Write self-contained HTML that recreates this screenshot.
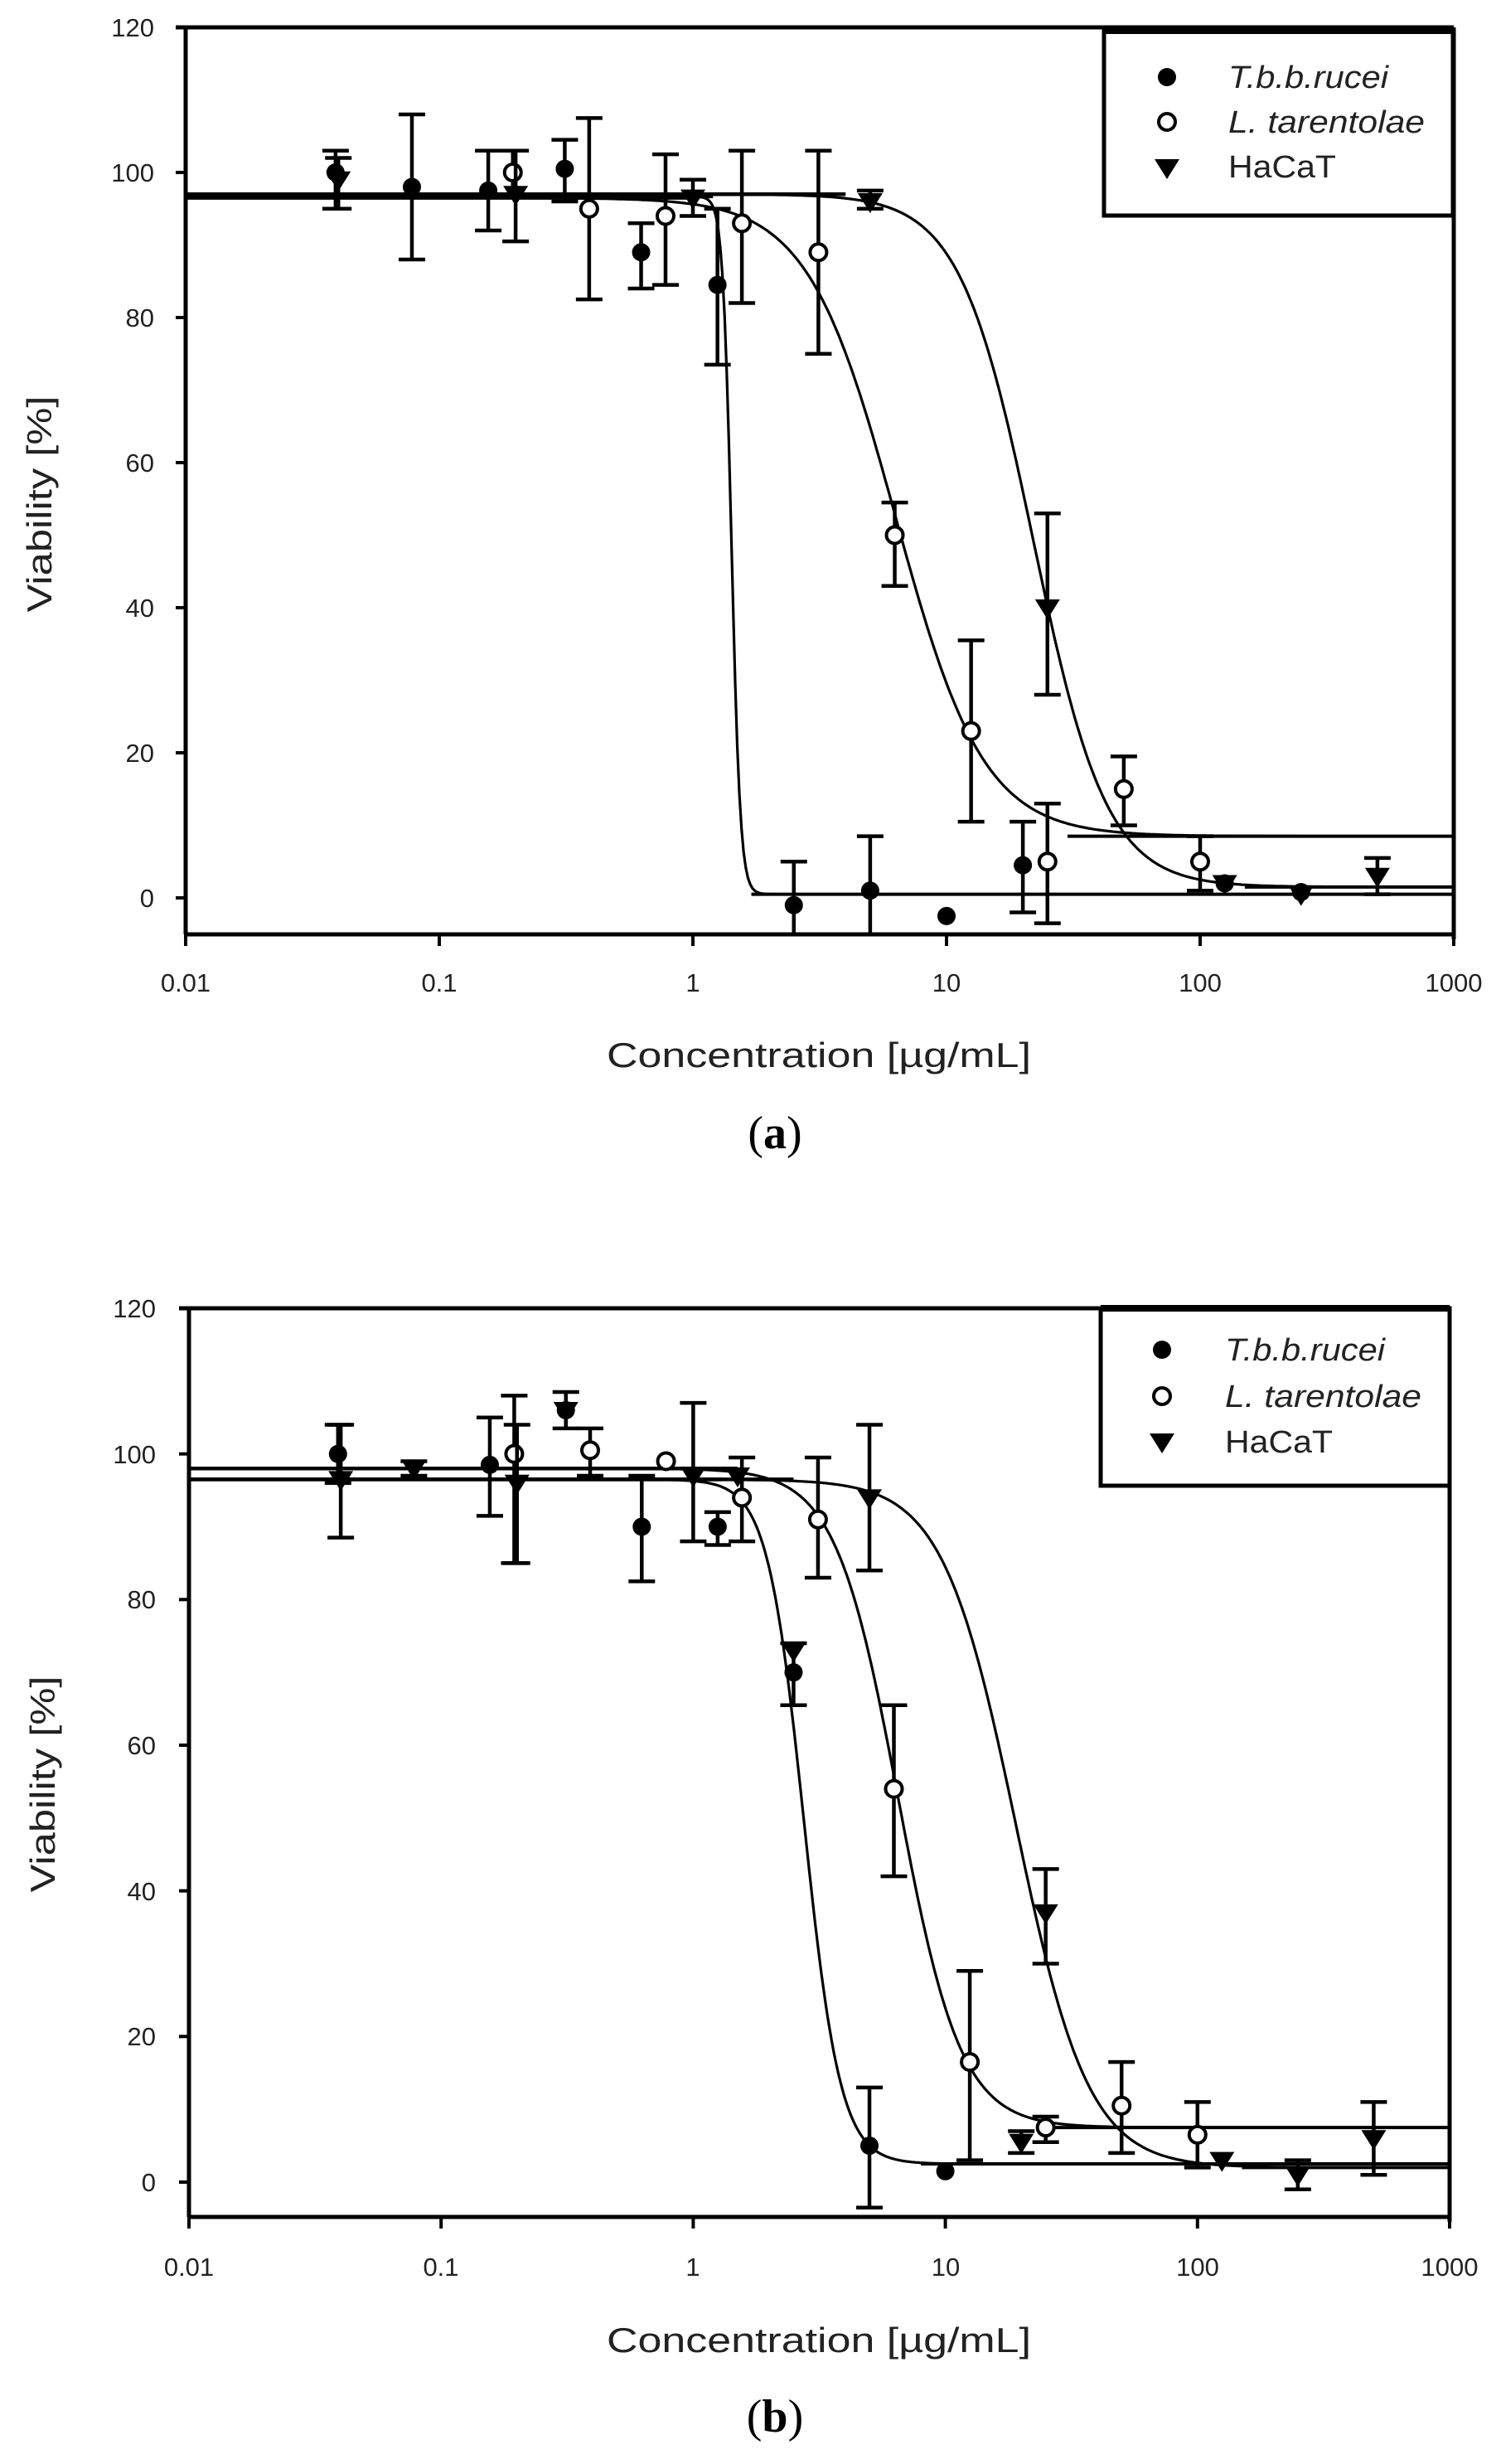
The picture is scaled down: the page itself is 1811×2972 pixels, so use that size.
<!DOCTYPE html>
<html><head><meta charset="utf-8"><style>
html,body{margin:0;padding:0;background:#fff;}
svg{display:block;}
text{font-family:"Liberation Sans",sans-serif;fill:#222;}
</style></head><body>
<svg id="s" width="1811" height="2972" viewBox="0 0 1811 2972" xmlns="http://www.w3.org/2000/svg">
<rect width="1811" height="2972" fill="#fff"/>
<g id="pa"></g><g id="pb"></g>
<!-- Plot A text -->
<g font-size="31" text-anchor="end">
<text x="186" y="44">120</text><text x="186" y="219">100</text><text x="186" y="394">80</text>
<text x="186" y="569">60</text><text x="186" y="744">40</text><text x="186" y="919">20</text><text x="186" y="1094">0</text>
</g>
<g font-size="31" text-anchor="middle">
<text x="224" y="1196">0.01</text><text x="530" y="1196">0.1</text><text x="836" y="1196">1</text>
<text x="1142" y="1196">10</text><text x="1448" y="1196">100</text><text x="1754" y="1196">1000</text>
</g>
<text x="988" y="1287" font-size="42" text-anchor="middle" textLength="512" lengthAdjust="spacingAndGlyphs">Concentration [µg/mL]</text>
<text transform="translate(62,608) rotate(-90)" font-size="42" text-anchor="middle" textLength="261" lengthAdjust="spacingAndGlyphs">Viability [%]</text>
<text x="935" y="1385" font-size="56" text-anchor="middle" style="font-family:'Liberation Serif',serif;fill:#000">(<tspan font-weight="bold">a</tspan>)</text>
<g font-size="38">
<text x="1482" y="106" font-style="italic" textLength="193" lengthAdjust="spacingAndGlyphs">T.b.b.rucei</text>
<text x="1482" y="160" font-style="italic" textLength="237" lengthAdjust="spacingAndGlyphs">L. tarentolae</text>
<text x="1482" y="214" textLength="130" lengthAdjust="spacingAndGlyphs">HaCaT</text>
</g>
<!-- Plot B text -->
<g font-size="31" text-anchor="end">
<text x="188" y="1589">120</text><text x="188" y="1765">100</text><text x="188" y="1940">80</text>
<text x="188" y="2116">60</text><text x="188" y="2292">40</text><text x="188" y="2467">20</text><text x="188" y="2643">0</text>
</g>
<g font-size="31" text-anchor="middle">
<text x="228" y="2745">0.01</text><text x="532" y="2745">0.1</text><text x="836" y="2745">1</text>
<text x="1141" y="2745">10</text><text x="1445" y="2745">100</text><text x="1749" y="2745">1000</text>
</g>
<text x="988" y="2837" font-size="42" text-anchor="middle" textLength="512" lengthAdjust="spacingAndGlyphs">Concentration [µg/mL]</text>
<text transform="translate(66,2152) rotate(-90)" font-size="42" text-anchor="middle" textLength="261" lengthAdjust="spacingAndGlyphs">Viability [%]</text>
<text x="935" y="2933" font-size="56" text-anchor="middle" style="font-family:'Liberation Serif',serif;fill:#000">(<tspan font-weight="bold">b</tspan>)</text>
<g font-size="38">
<text x="1478" y="1641" font-style="italic" textLength="193" lengthAdjust="spacingAndGlyphs">T.b.b.rucei</text>
<text x="1478" y="1697" font-style="italic" textLength="237" lengthAdjust="spacingAndGlyphs">L. tarentolae</text>
<text x="1478" y="1752" textLength="130" lengthAdjust="spacingAndGlyphs">HaCaT</text>
</g>
</svg>
<script>
var NS="http://www.w3.org/2000/svg";
function el(g,t,a){var e=document.createElementNS(NS,t);for(var k in a)e.setAttribute(k,a[k]);g.appendChild(e);return e;}
function plot(gid,P){
 var g=document.getElementById(gid);
 function X(c){return P.L+(Math.log10(c)+2)*(P.R-P.L)/5;}
 function Y(v){return P.y0-v*(P.y0-P.T)/120;}
 // axes
 el(g,"line",{x1:P.L,y1:P.T,x2:P.L,y2:P.B,stroke:"#000","stroke-width":5});
 el(g,"line",{x1:P.L-12,y1:P.T,x2:P.R,y2:P.T,stroke:"#000","stroke-width":5});
 el(g,"line",{x1:P.R,y1:P.T,x2:P.R,y2:P.B+6,stroke:"#000","stroke-width":5});
 el(g,"line",{x1:P.L,y1:P.B,x2:P.R,y2:P.B,stroke:"#000","stroke-width":5});
 for(var i=0;i<=6;i++){var y=Y(i*20);el(g,"line",{x1:P.L-12,y1:y,x2:P.L,y2:y,stroke:"#000","stroke-width":4});}
 for(var d=0;d<=5;d++){var x=P.L+d*(P.R-P.L)/5;el(g,"line",{x1:x,y1:P.B,x2:x,y2:P.B+14,stroke:"#000","stroke-width":4});}
 // legend
 var Lg=P.leg;
 el(g,"rect",{x:Lg.x1,y:Lg.y1,width:Lg.x2-Lg.x1,height:Lg.y2-Lg.y1,fill:"#fff",stroke:"#000","stroke-width":5});
 el(g,"line",{x1:Lg.x1,y1:Lg.y1,x2:Lg.x2,y2:Lg.y1,stroke:"#000","stroke-width":8});
 marker(g,0,Lg.mx,Lg.rows[0]);marker(g,1,Lg.mx,Lg.rows[1]);marker(g,2,Lg.mx,Lg.rows[2]);
 // curves
 P.curves.forEach(function(c){
  var d="";for(var k=0;k<=600;k++){var lc=-2+5*k/600,x=Math.pow(10,lc);
   var v=c.b+(c.t-c.b)/(1+Math.pow(x/c.ec,c.h));d+=(k?"L":"M")+X(x).toFixed(1)+","+Y(v).toFixed(1);}
  el(g,"path",{d:d,fill:"none",stroke:"#000","stroke-width":3.2});
  el(g,"line",{x1:P.L,y1:Y(c.t),x2:X(c.flatEnd),y2:Y(c.t),stroke:"#000","stroke-width":4.5});
  el(g,"line",{x1:X(c.lowStart),y1:Y(c.b),x2:P.R,y2:Y(c.b),stroke:"#000","stroke-width":4});
 });
 // points
 P.pts.forEach(function(p){
  var x=X(p[1]);
  if(p[3]!=null){el(g,"line",{x1:x,y1:Y(p[3]),x2:x,y2:Y(p[4]),stroke:"#000","stroke-width":4.5});
   [p[3],p[4]].forEach(function(v){el(g,"line",{x1:x-16,y1:Y(v),x2:x+16,y2:Y(v),stroke:"#000","stroke-width":4.5});});}
  marker(g,p[0],x,Y(p[2]));
 });
}
function marker(g,t,x,y){
 if(t==0)el(g,"circle",{cx:x,cy:y,r:11,fill:"#000"});
 else if(t==1)el(g,"circle",{cx:x,cy:y,r:10,fill:"#fff",stroke:"#000","stroke-width":4});
 else el(g,"path",{d:"M"+(x-15)+","+(y-10)+"L"+(x+15)+","+(y-10)+"L"+x+","+(y+14)+"Z",fill:"#000"});
}
plot("pa",{L:224,R:1754,T:33,B:1127,y0:1083,
 leg:{x1:1332,y1:37,x2:1753,y2:260,mx:1408,rows:[93,147,202]},
 curves:[{t:96.7,b:0.5,ec:1.42,h:25,flatEnd:1.2,lowStart:1.7},
         {t:96.5,b:8.5,ec:6.3,h:2.5,flatEnd:1.0,lowStart:30},
         {t:97,b:1.5,ec:22,h:3,flatEnd:4,lowStart:150}],
 pts:[[0,0.039,100,95,103],[0,0.078,98,88,108],[0,0.156,97.5,92,103],[0,0.3125,100.5,96,104.5],
  [0,0.625,89,84,93],[0,1.25,84.5,73.5,95],[0,2.5,-1,-5,5],[0,5,1,-5,8.5],[0,10,-2.5,null,null],
  [0,20,4.5,-2,10.5],[0,125,2,null,null],[0,250,0.8,null,null],
  [1,0.195,100,97,103],[1,0.39,95,82.5,107.5],[1,0.78,94,84.5,102.5],[1,1.56,93,82,103],
  [1,3.125,89,75,103],[1,6.25,50,43,54.5],[1,12.5,23,10.5,35.5],[1,25,5,-3.5,13],[1,50,15,10,19.5],[1,100,5,1,8.5],
  [2,0.04,99,95,102],[2,0.2,97,90.5,103],[2,1,96.5,94,99],[2,5,96,95,97.5],[2,25,40,28,53],
  [2,125,2,null,null],[2,250,0.5,null,null],[2,500,3,0.5,5.5]]});
plot("pb",{L:228,R:1749,T:1578,B:2674,y0:2632,
 leg:{x1:1328,y1:1578,x2:1749,y2:1792,mx:1402,rows:[1628,1684,1739]},
 curves:[{t:96.5,b:2.5,ec:2.75,h:6,flatEnd:1.3,lowStart:8},
         {t:98,b:7.5,ec:6.5,h:3.5,flatEnd:1.5,lowStart:25},
         {t:96.5,b:2,ec:19,h:3,flatEnd:2.5,lowStart:150}],
 pts:[[0,0.039,100,96,104],[0,0.156,98.5,91.5,105],[0,0.3125,106,103.5,108.5],[0,0.625,90,82.5,97],
  [0,1.25,90,87.5,92],[0,2.5,70,65.5,74],[0,5,5,-3.5,13],[0,10,1.5,null,null],
  [1,0.195,100,85,108],[1,0.39,100.5,97,103.5],[1,0.78,99,null,null],[1,1.56,94,88,99.5],
  [1,3.125,91,83,99.5],[1,6.25,54,42,65.5],[1,12.5,16.5,3,29],[1,25,7.5,5.5,9],[1,50,10.5,4,16.5],[1,100,6.5,2,11],
  [2,0.04,96.5,88.5,104],[2,0.078,98,97,99],[2,0.2,96,85,104],[2,0.3125,106,null,null],[2,1,97,88,107],
  [2,1.5,97,null,null],[2,5,94,84,104],[2,2.5,73,null,null],[2,25,37,30,43],[2,20,5.5,4,7],
  [2,125,3,null,null],[2,250,1,-1,3],[2,500,6,1,11]]});
</script>
</body></html>
